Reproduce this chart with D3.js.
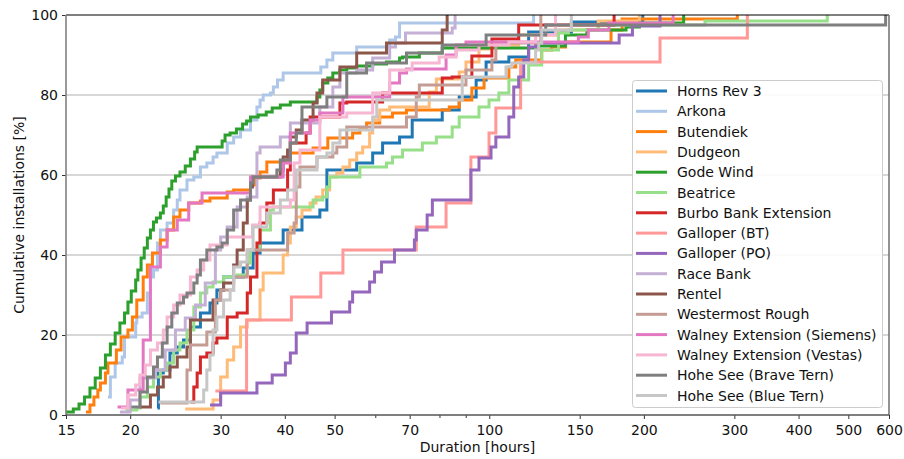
<!DOCTYPE html>
<html><head><meta charset="utf-8">
<script src="https://cdn.jsdelivr.net/npm/d3@7/dist/d3.min.js"></script>
<style>
html,body{margin:0;padding:0;background:#fff;}
svg{display:block;font-family:"DejaVu Sans",sans-serif;}
</style></head>
<body><svg id="chart" width="904" height="459"></svg>
<script>
// ---- data: [duration in hours, cumulative installations %] ----
const hornsRev3 = [[22.6,1.75],[22.7,10.5],[23.2,11.25],[23.9,15.5],[24.7,17],[25.4,18.75],[26.2,22],[27.4,25.5],[28.6,28],[29.5,31.25],[30.4,34.5],[33.2,36.75],[34.7,40.5],[35.8,43],[39.7,46.25],[43.2,49.5],[46.8,51.25],[48.3,61.25],[55.2,63],[59.3,65.5],[62.0,68],[66.9,69.5],[70.8,73.75],[81.0,76.25],[87.4,79.5],[94.3,83.75],[98.6,88.25],[109.2,89.5],[119.3,95.75],[144.5,98.25],[199,100]];
const arkona = [[18.1,4.5],[18.3,9.5],[18.7,13],[19.3,14.5],[19.5,19.5],[20.5,23],[20.6,24.5],[21.1,25.5],[21.6,30.5],[21.9,34.5],[22.2,36.25],[22.6,43],[22.9,46.25],[23.6,48],[24.3,51.25],[24.7,53.75],[25.0,56.25],[25.8,58.75],[26.6,59.5],[27.4,62],[28.2,63],[29.0,64.5],[29.5,65.5],[30.9,68],[31.8,69.5],[32.8,71.25],[34.3,73.75],[35.3,77],[35.8,78.75],[36.3,80],[37.5,80.5],[38.0,82],[38.7,83.75],[39.7,85.5],[47.0,87],[48.3,88.75],[49.6,90.5],[55.2,92],[64.0,93.75],[65.7,94.5],[66.9,98],[122.0,100]];
const butendiek = [[16.4,0.75],[16.7,2.5],[17.0,4.5],[17.3,6.25],[17.5,8],[17.9,10.5],[18.1,13],[18.8,16.25],[19.2,19.5],[19.8,21.25],[20.2,24.5],[20.6,28.75],[21.2,34.5],[21.6,37.5],[22.1,40.5],[22.9,43.75],[23.6,46.25],[24.3,49.5],[25.0,51.25],[26.0,53],[27.4,53.5],[28.6,54.25],[30.9,55.75],[31.8,56.25],[34.3,57.5],[35.0,59.25],[35.8,60.75],[36.9,63.25],[40.5,65.5],[45.4,66.75],[48.5,69.25],[54.2,70.5],[56.0,71.75],[57.7,73],[61.2,74.5],[64.8,75.5],[69.0,76.25],[83.6,77],[87.4,78.75],[92.5,81.75],[97.7,84.25],[109.2,87],[112.6,88.75],[126.5,91.25],[132.2,92],[140.8,93.25],[172.6,96.25],[181.4,99],[304,100]];
const dudgeon = [[25.6,1.5],[29.0,3.75],[30.0,9.5],[30.9,13.75],[31.8,17],[32.8,22],[33.8,23.75],[35.8,31.25],[36.3,35.5],[39.7,40],[40.5,43],[41.0,47],[42.1,49.5],[43.2,51.25],[44.8,53],[46.0,54.5],[47.4,56.25],[48.9,59.5],[50.5,60.5],[51.9,62],[53.5,63.75],[55.2,65.5],[56.7,67],[58.5,70.5],[59.3,73.75],[61.2,76.25],[64.0,77],[76.4,80.75],[78.9,84],[87.4,85.75],[90.1,88.25],[95.5,91.5],[99.9,92.5],[114.1,95],[136.4,96.25],[163,98.5],[196,100]];
const godeWind = [[15.0,0.75],[15.5,1.5],[15.9,2.75],[16.3,4.5],[16.7,6.75],[17.1,9.25],[17.5,11.75],[17.9,15],[18.3,17.75],[18.7,20.5],[19.1,23],[19.5,25.5],[19.8,28.25],[20.1,31],[20.5,33.75],[20.7,36.25],[21.0,39.25],[21.3,41.75],[21.6,44.25],[21.9,46.25],[22.2,48.25],[22.5,49.25],[22.9,50.5],[23.2,52.25],[23.5,54.5],[23.8,56.5],[24.1,58.5],[24.5,59.75],[25.0,60.75],[25.6,62.25],[26.2,64],[26.7,65.75],[27.0,67],[30.2,68.5],[30.6,70],[31.3,70.5],[32.2,71.5],[33.1,72.75],[33.7,73.5],[34.3,74.5],[35.5,75],[36.8,75.75],[37.8,76.75],[39.2,77.5],[41.0,78.25],[46.2,79.5],[46.8,81.25],[47.4,83],[48.5,84.25],[49.6,85.5],[51.2,86.25],[52.8,86.75],[55.2,87.25],[59.3,87.75],[63.1,88.25],[66.9,89.25],[67.8,89.5],[73.1,90.5],[81.0,91.75],[124.8,92.25],[140.7,95],[154.9,96.25],[184.6,97],[196,98],[239,100]];
const beatrice = [[19.6,1.25],[20.6,1.75],[20.9,4.5],[21.6,7],[22.2,9.5],[22.9,11.25],[23.6,13],[24.3,16.25],[25.0,18],[25.8,21.25],[26.6,27],[27.4,30.5],[28.2,32],[29.0,33.25],[30.4,34.5],[32.3,35],[33.8,38],[34.3,41.25],[35.8,46.25],[37.5,51.25],[38.0,52],[45.4,53.75],[47.4,54.5],[48.3,57],[48.9,59.5],[56.0,62],[63.1,63],[64.8,64.5],[67.8,66.25],[74.1,68],[78.9,69.5],[84.7,72],[87.4,74.5],[95.5,77],[99.9,78.75],[104.4,80.5],[109.2,83.75],[119.3,87.5],[126.5,91.25],[136.4,95.5],[142.6,96.25],[163,97.5],[263,98.5],[455,100]];
const burboBank = [[26.2,3.25],[26.6,7],[27.0,10.5],[27.4,14.5],[28.2,15.5],[29.0,18],[29.5,19.25],[30.9,24.5],[32.3,25.5],[33.8,30.5],[34.3,34.5],[35.3,43],[35.8,48],[36.9,53],[38.0,56.25],[40.5,61.25],[41.0,68],[44.0,70.5],[44.8,74.5],[51.2,78],[52.8,78.25],[62.0,80.5],[81.0,84.25],[84.7,84.5],[92.5,89.75],[101.2,94],[114.1,97.5],[175,100]];
const galloperBT = [[29.3,6],[33.7,23.75],[41.2,29.5],[47.0,35.5],[51.9,41.25],[72.1,47],[82.4,53],[92.1,64.5],[99.9,70.5],[103.0,76.75],[115.1,88.25],[215,94.25],[318,100]];
const galloperPO = [[28.6,2.5],[30.0,5.5],[35.3,8],[37.8,10],[40.1,13],[41.0,15.5],[42.1,20.5],[44.2,23],[49.3,25.75],[53.5,28.25],[54.2,30.75],[58.5,33.25],[59.8,35.75],[61.7,38.25],[65.4,41.25],[71.5,43.75],[72.1,46.25],[75.7,50],[77.5,53.75],[92.1,61.25],[95.5,64.25],[100.8,67],[103.0,69.5],[109.2,74.5],[111.6,82],[114.1,84.5],[116.7,88.75],[119.3,92],[123.1,93],[179,95],[190,97.25],[215,100]];
const raceBank = [[19.1,0.75],[20.0,3.75],[20.9,9.25],[22.4,11.25],[23.4,16.25],[24.5,21.25],[25.6,24.25],[26.8,27.5],[28.0,33],[29.3,41.25],[30.0,44.5],[30.9,47],[32.3,52],[33.8,54.5],[35.3,65.5],[35.8,67],[39.2,69.5],[41.0,73],[46.8,77],[49.6,82],[51.2,85.5],[55.2,86.25],[59.3,89.25],[64.0,92],[65.7,93],[68.7,95.5],[84.7,96.75],[85.8,100]];
const rentel = [[20.9,2],[21.9,5],[22.6,7],[23.2,9.5],[23.9,12],[24.7,14.5],[25.8,17],[26.2,23.75],[29.0,28.75],[30.0,31.25],[30.4,33],[31.8,37.5],[32.3,41.25],[33.2,48],[33.8,53.75],[34.3,57],[34.6,59.5],[39.2,61.25],[39.7,64.5],[40.5,66.25],[41.0,69.5],[42.1,71.25],[43.2,73.75],[45.4,78],[46.2,80.5],[47.4,83.75],[51.2,87],[55.2,90.5],[63.1,93],[81.0,96.25],[82.8,100]];
const westermostRough = [[22.9,3],[25.8,11.25],[26.2,17.5],[28.2,20.75],[29.3,28.75],[30.0,31.25],[31.8,34.5],[33.8,41.25],[40.5,45.5],[41.7,48],[42.1,57],[42.8,62],[46.2,64.5],[49.6,65.5],[50.5,67],[52.8,72],[69.0,74.5],[72.1,79.5],[73.1,82.5],[90.1,86.25],[101.2,88.75],[103.0,93],[126,100]];
const walneySiemens = [[18.9,2],[19.8,6.25],[21.2,18.75],[21.9,37],[22.9,42],[23.6,46.25],[24.7,48.75],[26.0,53],[27.6,55.5],[34.3,59.5],[39.7,63],[41.0,70.5],[44.8,73.75],[46.8,75.5],[51.9,79.5],[64.0,83],[66.9,85.5],[69.0,86.5],[82.4,90],[86.2,92.5],[90.1,93.25],[149.1,94.5],[155.9,96.25],[171,98],[228,100]];
const walneyVestas = [[19.2,1.75],[19.8,5],[20.5,7.5],[20.9,10],[21.4,12.5],[21.9,16.25],[22.6,18],[23.2,21.25],[23.6,24.5],[24.3,27.5],[25.0,30],[26.2,34.5],[27.0,36.25],[27.8,38.75],[28.6,42.5],[30.9,44.5],[34.6,47.5],[35.8,52],[41.0,53.75],[41.7,63],[42.8,66.25],[46.8,74.5],[52.8,75.5],[59.3,80.5],[64.0,86.25],[70.8,88],[79.9,89.5],[86.2,91.25],[95.5,92.5],[109.2,93.25],[123.1,95],[134.6,100]];
const hoheSeeBrave = [[20.1,2],[20.9,5.75],[21.6,9.5],[22.2,12],[22.6,14.5],[23.1,18],[23.6,22],[24.1,25.5],[24.7,28],[25.4,29.5],[25.8,30.5],[26.6,33],[27.0,35],[27.4,38.75],[28.2,41.25],[29.5,42],[30.2,43],[30.9,46.25],[31.8,51.25],[32.8,53.75],[34.3,58],[34.7,59.5],[38.6,61.25],[39.2,63.75],[41.0,68],[42.1,70.5],[43.2,77],[48.3,79.5],[52.8,85.5],[57.7,88],[69.0,90.5],[81.0,92.5],[98.6,95],[128.8,97.5],[591,100]];
const hoheSeeBlue = [[22.7,3.25],[27.8,6.25],[28.2,11.25],[28.6,15],[29.0,21.25],[29.5,24.5],[30.4,28.75],[31.3,31.25],[31.8,37],[32.8,38.25],[33.8,41.25],[34.7,47],[36.9,50.5],[39.2,53.75],[40.5,56.25],[42.1,61.25],[46.2,64.5],[48.3,65.5],[49.6,68],[51.2,71.25],[59.3,74.5],[60.4,78.75],[88.6,84.5],[107.8,87],[110.6,88],[123.1,91.25],[124.8,93],[126.5,96.25],[144.5,100]];

const seriesNames = ["Horns Rev 3","Arkona","Butendiek","Dudgeon","Gode Wind","Beatrice","Burbo Bank Extension","Galloper (BT)","Galloper (PO)","Race Bank","Rentel","Westermost Rough","Walney Extension (Siemens)","Walney Extension (Vestas)","Hohe See (Brave Tern)","Hohe See (Blue Tern)"];
const seriesData = [hornsRev3, arkona, butendiek, dudgeon, godeWind, beatrice, burboBank, galloperBT, galloperPO, raceBank, rentel, westermostRough, walneySiemens, walneyVestas, hoheSeeBrave, hoheSeeBlue];
const xTickLabels = [15,20,30,40,50,70,100,150,200,300,400,500,600];
const xMinorTicks = [60,80,90];
const yTicks = [0,20,40,60,80,100];
const yGrid = [20,40,60,80];
const xDomain = [15,600];
const yDomain = [0,100];

// ---- styles ----
const colors = ["#1f77b4","#aec7e8","#ff7f0e","#ffbb78","#2ca02c","#98df8a","#d62728","#ff9896","#9467bd","#c5b0d5","#8c564b","#c49c94","#e377c2","#f7b6d2","#7f7f7f","#c7c7c7"];
const M = {left:66, right:889, top:15, bottom:415};
const FONT = 14;

const svg = d3.select("#chart");
const x = d3.scaleLog().domain(xDomain).range([M.left, M.right]);
const y = d3.scaleLinear().domain(yDomain).range([M.bottom, M.top]);

svg.append("defs").append("clipPath").attr("id","plotclip")
  .append("rect").attr("x",M.left).attr("y",M.top).attr("width",M.right-M.left).attr("height",M.bottom-M.top);

// grid
svg.append("g").selectAll("line").data(yGrid).join("line")
  .attr("x1",M.left).attr("x2",M.right).attr("y1",d=>y(d)).attr("y2",d=>y(d))
  .attr("stroke","#b0b0b0").attr("stroke-width",1);

// lines
const line = d3.line().x(d=>x(d[0])).y(d=>y(d[1])).curve(d3.curveStepAfter);
const gl = svg.append("g").attr("clip-path","url(#plotclip)");
seriesData.forEach((s,i)=>{
  gl.append("path").attr("d",line(s)).attr("fill","none")
    .attr("stroke",colors[i]).attr("stroke-width",3).attr("stroke-linejoin","miter").attr("stroke-linecap","butt");
});

// axes
const xAxis = d3.axisBottom(x).tickValues(xTickLabels).tickFormat(d3.format("d")).tickSize(4).tickPadding(4);
const gx = svg.append("g").attr("transform",`translate(0,${M.bottom})`).call(xAxis);
const xMinor = d3.axisBottom(x).tickValues(xMinorTicks).tickFormat("").tickSize(3);
const gxm = svg.append("g").attr("transform",`translate(0,${M.bottom})`).call(xMinor);
const yAxis = d3.axisLeft(y).tickValues(yTicks).tickFormat(d3.format("d")).tickSize(4).tickPadding(4);
const gy = svg.append("g").attr("transform",`translate(${M.left},0)`).call(yAxis);
[gx,gxm,gy].forEach(g=>{
  g.select(".domain").remove();
  g.selectAll(".tick line").attr("stroke","#333").attr("stroke-width",1);
  g.selectAll(".tick text").attr("font-size",FONT).attr("font-family","DejaVu Sans").attr("fill","#111");
});
gx.selectAll(".tick text").attr("dy","0.85em");

// spines
svg.append("line").attr("x1",M.left).attr("x2",M.right).attr("y1",M.top).attr("y2",M.top).attr("stroke","#000").attr("stroke-width",1.2);
svg.append("line").attr("x1",M.left).attr("x2",M.left).attr("y1",M.top).attr("y2",M.bottom).attr("stroke","#808080").attr("stroke-width",1.6);
svg.append("line").attr("x1",M.right).attr("x2",M.right).attr("y1",M.top).attr("y2",M.bottom).attr("stroke","#777").attr("stroke-width",1.6);
svg.append("line").attr("x1",M.left).attr("x2",M.right).attr("y1",M.bottom).attr("y2",M.bottom).attr("stroke","#555").attr("stroke-width",1.6);

// axis labels
svg.append("text").attr("x",(M.left+M.right)/2).attr("y",452).attr("text-anchor","middle")
  .attr("font-size",FONT).attr("fill","#111").text("Duration [hours]");
svg.append("text").attr("transform",`translate(24,${(M.top+M.bottom)/2}) rotate(-90)`).attr("text-anchor","middle")
  .attr("font-size",FONT).attr("fill","#111").text("Cumulative installations [%]");

// legend
const lg = svg.append("g");
lg.append("rect").attr("x",632.5).attr("y",80.5).attr("width",250).attr("height",327).attr("rx",3)
  .attr("fill","#fff").attr("fill-opacity",0.9).attr("stroke","#cccccc").attr("stroke-width",1);
seriesNames.forEach((n,i)=>{
  const cy = 91 + i*20.3;
  lg.append("line").attr("x1",636).attr("x2",667).attr("y1",cy).attr("y2",cy).attr("stroke",colors[i]).attr("stroke-width",3);
  lg.append("text").attr("x",677).attr("y",cy).attr("dy","0.36em").attr("font-size",FONT).attr("fill","#111").text(n);
});
</script></body></html>
